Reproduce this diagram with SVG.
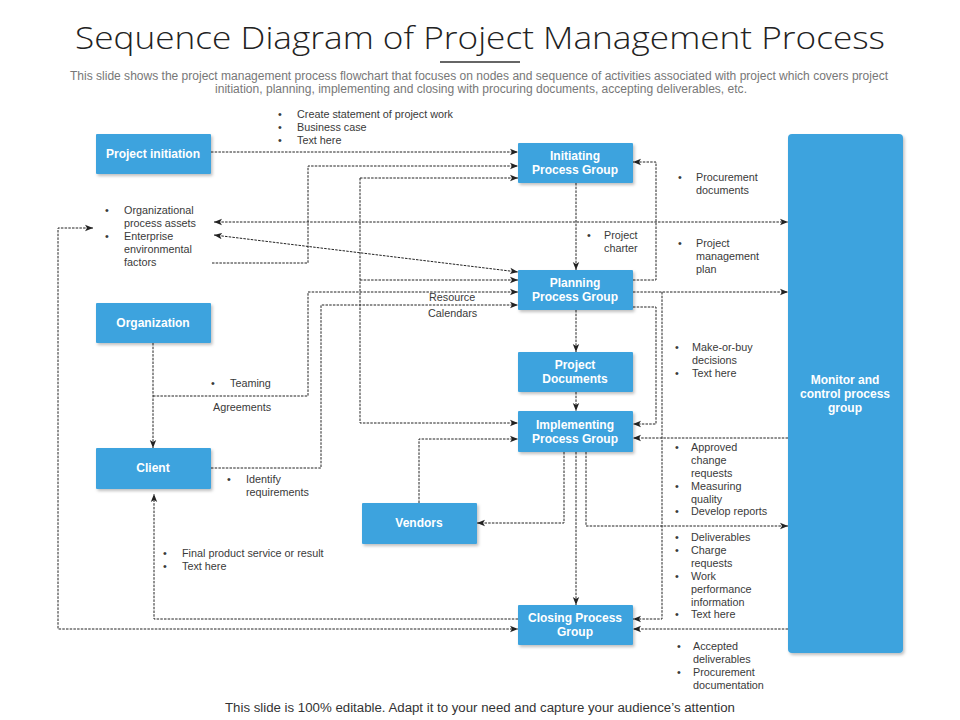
<svg xmlns="http://www.w3.org/2000/svg" width="960" height="720" viewBox="0 0 960 720">
<style>
.node{fill:#3EA3DE;filter:url(#sh)}
.nt{font-family:"Liberation Sans",Arial,sans-serif;font-size:12px;font-weight:bold;fill:#fff;text-anchor:middle}
.ann{font-family:"Liberation Sans",Arial,sans-serif;font-size:10.8px;fill:#3a3a3a}
.c{fill:none;stroke:#222;stroke-width:1;stroke-dasharray:2.5 1.2}
.e{marker-end:url(#ar)}
.b{marker-start:url(#ar);marker-end:url(#ar)}
</style>
<defs>
<filter id="sh" x="-10%" y="-10%" width="130%" height="140%">
<feDropShadow dx="1.5" dy="2" stdDeviation="1.5" flood-color="#000" flood-opacity="0.25"/>
</filter>
<marker id="ar" viewBox="0 0 10 10" refX="10" refY="5" markerWidth="8" markerHeight="8" markerUnits="userSpaceOnUse" orient="auto-start-reverse">
<path d="M0,1 L10,5 L0,9 L2.5,5 z" fill="#222"/>
</marker>
</defs>
<rect width="960" height="720" fill="#fff"/>

<text x="480" y="49" font-family="'Open Sans',sans-serif" font-weight="300" font-size="32" fill="#222" text-anchor="middle" textLength="810" lengthAdjust="spacingAndGlyphs">Sequence Diagram of Project Management Process</text>
<rect x="440" y="61" width="80" height="2" fill="#666"/>
<text x="479" y="80" font-family="'Liberation Sans',Arial,sans-serif" font-size="12.5" fill="#777" text-anchor="middle" textLength="818" lengthAdjust="spacingAndGlyphs">This slide shows the project management process flowchart that focuses on nodes and sequence of activities associated with project which covers project</text>
<text x="481" y="93" font-family="'Liberation Sans',Arial,sans-serif" font-size="12.5" fill="#777" text-anchor="middle" textLength="532" lengthAdjust="spacingAndGlyphs">initiation, planning, implementing and closing with procuring documents, accepting deliverables, etc.</text>

<g id="connectors">
<path class="c e" d="M211,152 H518"/>
<path class="c e" d="M212,263 H308 V166 H518"/>
<path class="c e" d="M360,178 H518"/>
<path class="c e" d="M360,178 V423 H518"/>
<path class="c e" d="M360,280 H518"/>
<path class="c b" d="M214,222 H788"/>
<path class="c b" d="M214,235 L518,272"/>
<path class="c e" d="M153,343 V448"/>
<path class="c e" d="M153,396 H308 V292 H518"/>
<path class="c e" d="M211,468 H321 V305 H518"/>
<path class="c e" d="M576,183 V270"/>
<path class="c e" d="M633,280 H656 V162 H633"/>
<path class="c e" d="M633,292 H788"/>
<path class="c e" d="M633,307 H656 V424 H633"/>
<path class="c e" d="M662,292 V619 H633"/>
<path class="c e" d="M576,310 V352"/>
<path class="c e" d="M576,392 V411"/>
<path class="c e" d="M788,438 H633"/>
<path class="c e" d="M788,629 H633"/>
<path class="c e" d="M419,503 V439 H518"/>
<path class="c e" d="M564,452 V523 H477"/>
<path class="c e" d="M576,452 V605"/>
<path class="c e" d="M586,452 V526 H788"/>
<path class="c e" d="M518,619 H154 V494"/>
<path class="c b" d="M93,228 H58 V629 H518"/>
</g>

<g id="project-initiation"><rect class="node" x="96" y="134" width="115" height="40" rx="1"/><text class="nt" x="153" y="158">Project initiation</text></g>
<g id="organization"><rect class="node" x="96" y="303" width="115" height="40" rx="1"/><text class="nt" x="153" y="327">Organization</text></g>
<g id="client"><rect class="node" x="96" y="448" width="115" height="41" rx="1"/><text class="nt" x="153" y="472">Client</text></g>
<g id="vendors"><rect class="node" x="362" y="503" width="115" height="41" rx="1"/><text class="nt" x="419" y="527">Vendors</text></g>
<g id="initiating"><rect class="node" x="518" y="143" width="115" height="40" rx="1"/><text class="nt" x="575" y="160">Initiating</text><text class="nt" x="575" y="174">Process Group</text></g>
<g id="planning"><rect class="node" x="518" y="270" width="115" height="40" rx="1"/><text class="nt" x="575" y="287">Planning</text><text class="nt" x="575" y="301">Process Group</text></g>
<g id="project-documents"><rect class="node" x="518" y="352" width="115" height="40" rx="1"/><text class="nt" x="575" y="369">Project</text><text class="nt" x="575" y="383">Documents</text></g>
<g id="implementing"><rect class="node" x="518" y="411" width="115" height="41" rx="1"/><text class="nt" x="575" y="429">Implementing</text><text class="nt" x="575" y="443">Process Group</text></g>
<g id="closing"><rect class="node" x="518" y="605" width="115" height="40" rx="1"/><text class="nt" x="575" y="622">Closing Process</text><text class="nt" x="575" y="636">Group</text></g>
<g id="monitor"><rect class="node" x="788" y="134" width="115" height="519" rx="4"/><text class="nt" x="845" y="384">Monitor and</text><text class="nt" x="845" y="398">control process</text><text class="nt" x="845" y="412">group</text></g>

<g id="annotations" class="ann">
<text x="278" y="118">•</text><text x="297" y="118">Create statement of project work</text>
<text x="278" y="131">•</text><text x="297" y="131">Business case</text>
<text x="278" y="144">•</text><text x="297" y="144">Text here</text>

<text x="105" y="214">•</text><text x="124" y="214">Organizational</text>
<text x="124" y="227">process assets</text>
<text x="105" y="240">•</text><text x="124" y="240">Enterprise</text>
<text x="124" y="253">environmental</text>
<text x="124" y="266">factors</text>

<text x="587" y="239">•</text><text x="604" y="239">Project</text>
<text x="604" y="252">charter</text>

<text x="678" y="181">•</text><text x="696" y="181">Procurement</text>
<text x="696" y="194">documents</text>

<text x="678" y="247">•</text><text x="696" y="247">Project</text>
<text x="696" y="260">management</text>
<text x="696" y="273">plan</text>

<text x="429" y="301">Resource</text>
<text x="428" y="317">Calendars</text>

<text x="675" y="351">•</text><text x="692" y="351">Make-or-buy</text>
<text x="692" y="364">decisions</text>
<text x="675" y="377">•</text><text x="692" y="377">Text here</text>

<text x="211" y="387">•</text><text x="230" y="387">Teaming</text>
<text x="213" y="411">Agreements</text>

<text x="227" y="483">•</text><text x="246" y="483">Identify</text>
<text x="246" y="496">requirements</text>

<text x="675" y="451">•</text><text x="691" y="451">Approved</text>
<text x="691" y="464">change</text>
<text x="691" y="477">requests</text>
<text x="675" y="490">•</text><text x="691" y="490">Measuring</text>
<text x="691" y="503">quality</text>
<text x="675" y="515">•</text><text x="691" y="515">Develop reports</text>

<text x="675" y="541">•</text><text x="691" y="541">Deliverables</text>
<text x="675" y="554">•</text><text x="691" y="554">Charge</text>
<text x="691" y="567">requests</text>
<text x="675" y="580">•</text><text x="691" y="580">Work</text>
<text x="691" y="593">performance</text>
<text x="691" y="606">information</text>
<text x="675" y="618">•</text><text x="691" y="618">Text here</text>

<text x="163" y="557">•</text><text x="182" y="557">Final  product service or result</text>
<text x="163" y="570">•</text><text x="182" y="570">Text here</text>

<text x="677" y="650">•</text><text x="693" y="650">Accepted</text>
<text x="693" y="663">deliverables</text>
<text x="677" y="676">•</text><text x="693" y="676">Procurement</text>
<text x="693" y="689">documentation</text>
</g>

<text x="480" y="712" font-family="'Liberation Sans',Arial,sans-serif" font-size="12" fill="#333" text-anchor="middle" textLength="510" lengthAdjust="spacingAndGlyphs">This slide is 100% editable. Adapt it to your need and capture your audience’s attention</text>
</svg>
